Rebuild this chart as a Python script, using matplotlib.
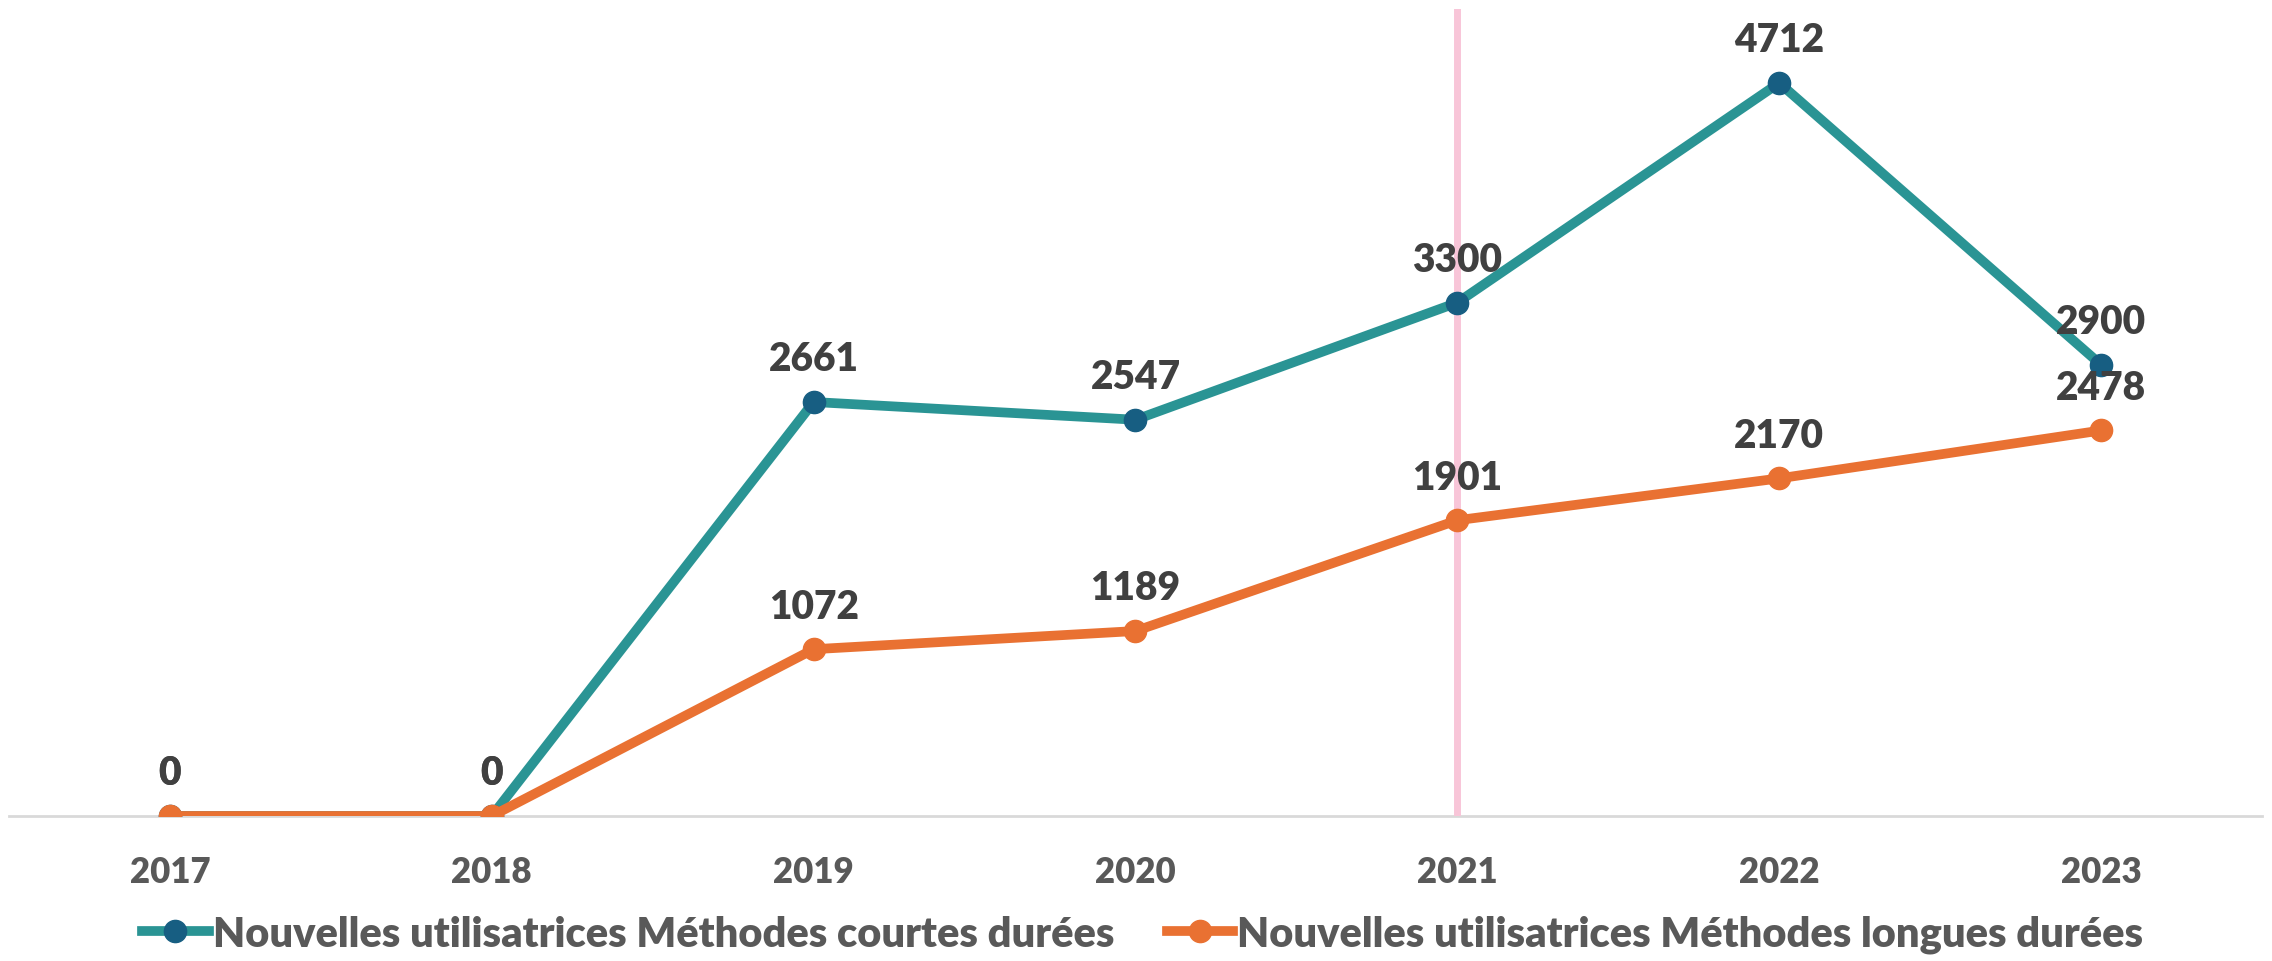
import matplotlib.pyplot as plt

# ==== DATA ====
years = ["2017", "2018", "2019", "2020", "2021", "2022", "2023"]
courtes = [0, 0, 2661, 2547, 3300, 4712, 2900]
longues = [0, 0, 1072, 1189, 1901, 2170, 2478]
label_courtes = "Nouvelles utilisatrices Méthodes courtes durées"
label_longues = "Nouvelles utilisatrices Méthodes longues durées"
highlight_year = "2021"

# ==== STYLE ====
TEAL = "#2A9494"
TEAL_MARK = "#175E82"
ORANGE = "#E97132"
PINK = "#F8C5D8"
TXT = "#404040"
TICK = "#595959"
plt.rcParams["font.family"] = ["Lato", "DejaVu Sans"]
plt.rcParams["font.weight"] = "heavy"

fig = plt.figure(figsize=(22.72, 9.62), dpi=100)
ax = fig.add_axes([9 / 2272, 1 - 817 / 962, 2253 / 2272, 807 / 962])

x = list(range(len(years)))
hx = years.index(highlight_year)
ax.axvline(hx, color=PINK, lw=5, zorder=1)

ax.plot(x, courtes, color=TEAL, lw=7, marker="o", ms=16,
        mfc=TEAL_MARK, mec=TEAL_MARK, label=label_courtes, zorder=3)
ax.plot(x, longues, color=ORANGE, lw=7, marker="o", ms=16,
        mfc=ORANGE, mec=ORANGE, label=label_longues, zorder=4)

for series in (courtes, longues):
    for xi, v in zip(x, series):
        ax.annotate(str(v), (xi, v), xytext=(0, 31), textcoords="offset points",
                    ha="center", va="center", fontsize=28, color=TXT, fontweight="heavy")

ax.set_xlim(-0.5, len(years) - 0.5)
ax.set_ylim(0, 5187)
ax.set_xticks(x)
ax.set_xticklabels(years, fontsize=25, color=TICK, fontweight="heavy")
ax.tick_params(axis="x", length=0, pad=28)
ax.set_yticks([])
for s in ["top", "right", "left"]:
    ax.spines[s].set_visible(False)
ax.spines["bottom"].set_color("#D9D9D9")
ax.spines["bottom"].set_linewidth(2)
ax.spines["bottom"].set_zorder(0)

fig.legend(loc="lower center", bbox_to_anchor=(0.503, -0.031), ncol=2, frameon=False,
           handlelength=1.6, handletextpad=0.1, columnspacing=1.25,
           labelcolor=TICK, prop={"weight": "heavy", "size": 30})

fig.savefig("out.png", dpi=100)
